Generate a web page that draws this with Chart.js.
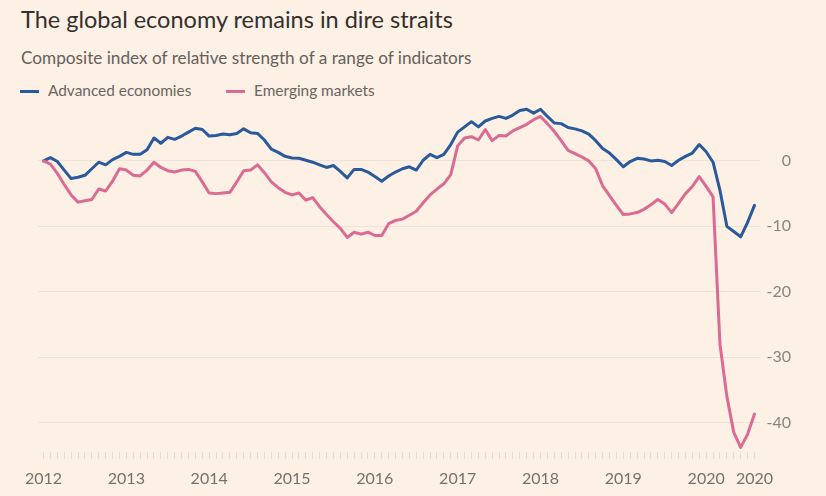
<!DOCTYPE html>
<html><head><meta charset="utf-8">
<script src="https://cdn.jsdelivr.net/npm/chart.js@4"></script>
<style>
html,body{margin:0;padding:0;background:#fdf0e5;}
#wrap{position:relative;width:826px;height:496px;overflow:hidden;font-family:Lato,"Open Sans",sans-serif;background:#fdf0e5;}
.t{position:absolute;white-space:nowrap;line-height:1;}
#title{left:21px;top:7.5px;font-size:23.5px;color:#33302e;}
#sub{left:21px;top:48.7px;font-size:17.2px;color:#66605c;}
.leg{top:83px;font-size:15.4px;color:#6b6561;}
.sw{position:absolute;height:3px;width:19px;top:90px;}
canvas{position:absolute;left:0;top:0;}
</style></head>
<body>
<div id="wrap">
<div class="t" id="title">The global economy remains in dire straits</div>
<div class="t" id="sub">Composite index of relative strength of a range of indicators</div>
<div class="sw" style="left:20px;background:#2a5a9c"></div>
<div class="t leg" style="left:48px">Advanced economies</div>
<div class="sw" style="left:226px;background:#dc6b93"></div>
<div class="t leg" style="left:254px">Emerging markets</div>
<canvas id="c" width="826" height="496"></canvas>
</div>
<script>
// Monthly categories, Jan 2012 onward
const months = [];
for (let y = 2012; y <= 2020; y++) for (let m = 1; m <= 12; m++) months.push(y + '-' + String(m).padStart(2, '0'));
months.length = 104;

const advanced = [0,0.5,-0.1,-1.4,-2.7,-2.5,-2.2,-1.2,-0.2,-0.6,
0.2,0.7,1.3,1.0,1.0,1.7,3.5,2.7,3.6,3.3,
3.8,4.4,5.0,4.8,3.8,3.9,4.1,4.0,4.2,4.9,
4.3,4.2,3.2,1.8,1.3,0.7,0.45,0.4,0.1,-0.2,
-0.6,-1.0,-0.7,-1.6,-2.6,-1.3,-1.3,-1.7,-2.4,-3.1,
-2.3,-1.7,-1.2,-0.9,-1.4,0.1,1.0,0.5,1.0,2.5,
4.4,5.2,6.0,5.2,6.1,6.5,6.8,6.5,7.0,7.7,
7.9,7.3,7.9,6.8,5.8,5.7,5.1,4.9,4.6,4.1,
3.1,1.9,1.2,0.2,-0.9,-0.1,0.4,0.3,0.0,0.1,
-0.1,-0.7,0.1,0.7,1.2,2.5,1.4,-0.2,-4.5,-10.0,
-10.8,-11.6,-9.4,-6.8];

const emerging = [0,-0.5,-1.9,-3.6,-5.2,-6.3,-6.1,-5.9,-4.3,-4.6,
-3.1,-1.2,-1.4,-2.2,-2.3,-1.4,-0.2,-1.0,-1.5,-1.7,
-1.4,-1.3,-1.6,-3.2,-4.9,-5.0,-4.9,-4.8,-3.2,-1.5,
-1.4,-0.6,-1.8,-3.2,-4.1,-4.8,-5.2,-4.9,-6.0,-5.6,
-7.0,-8.2,-9.3,-10.3,-11.7,-10.9,-11.2,-10.9,-11.4,-11.4,
-9.6,-9.1,-8.9,-8.3,-7.7,-6.4,-5.2,-4.3,-3.5,-2.1,
2.3,3.5,3.7,3.2,4.8,3.1,3.9,3.8,4.6,5.1,
5.6,6.3,6.8,5.7,4.5,3.1,1.6,1.1,0.6,0.0,
-1.2,-3.8,-5.3,-6.8,-8.2,-8.1,-7.9,-7.4,-6.7,-5.9,
-6.6,-7.9,-6.5,-5.0,-3.9,-2.4,-3.9,-5.5,-28,-36,
-41.5,-43.8,-41.8,-38.7];

const yearLabels = ["2012","2013","2014","2015","2016","2017","2018","2019","2020","2020"];
const yearTickMonths = [0,12,24,36,48,60,72,84,96,103];
const yTickValues = [0,-10,-20,-30,-40];

const FONT = 'Lato, "Open Sans", sans-serif';

new Chart(document.getElementById('c'), {
  type: 'line',
  data: {
    datasets: [
      { label: 'Emerging markets', data: emerging.map((v,i)=>({x:i,y:v})), borderColor: '#dc6b93' },
      { label: 'Advanced economies', data: advanced.map((v,i)=>({x:i,y:v})), borderColor: '#2a5a9c' }
    ]
  },
  options: {
    responsive: false, animation: false, devicePixelRatio: 1,
    layout: { padding: { left: 38, right: 35, top: 95.5, bottom: 0 } },
    plugins: { legend: { display: false }, tooltip: { enabled: false } },
    elements: {
      point: { radius: 0 },
      line: { borderWidth: 3, tension: 0, borderJoinStyle: 'round', borderCapStyle: 'round' }
    },
    scales: {
      x: {
        type: 'linear', min: -0.8, max: 103.8,
        afterBuildTicks: s => { s.ticks = months.map((m,i)=>({value:i})); },
        afterFit: s => { s.height = 44; },
        ticks: {
          autoSkip: false, maxRotation: 0, minRotation: 0, padding: 10,
          color: '#77706b', font: { family: FONT, size: 16 },
          callback: v => { const k = yearTickMonths.indexOf(v); return k >= 0 ? yearLabels[k] : ''; }
        },
        grid: { drawOnChartArea: false, drawTicks: true, tickLength: 7, tickColor: '#eadbcf', lineWidth: 1 },
        border: { display: false }
      },
      y: {
        position: 'right', min: -44.5, max: 10,
        afterBuildTicks: s => { s.ticks = yTickValues.map(v=>({value:v})); },
        afterFit: s => { s.width = 31; },
        ticks: { crossAlign: 'far', padding: 7, color: '#8a847f', font: { family: FONT, size: 16 } },
        grid: { color: '#efe2d6', drawTicks: false, lineWidth: 1 },
        border: { display: false }
      }
    }
  }
});
</script>
</body></html>
